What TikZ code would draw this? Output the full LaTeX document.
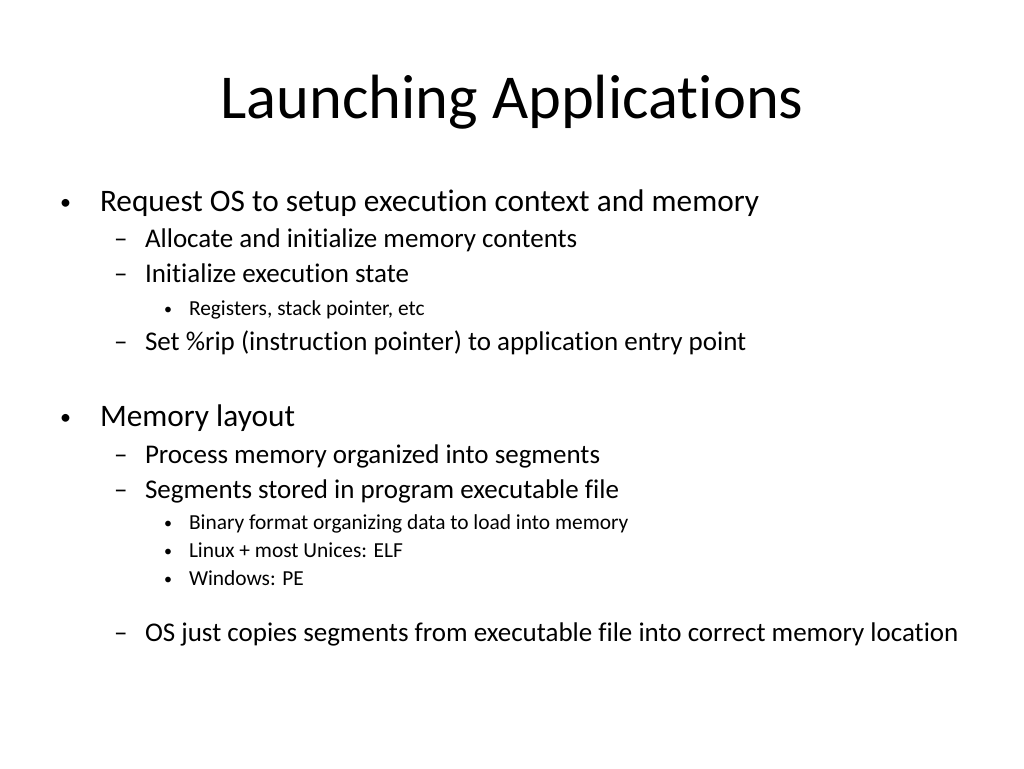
\documentclass[tikz,border=0pt]{standalone}
\usepackage{fontspec}
\setmainfont[RawFeature=-liga]{Carlito}
\begin{document}
\begin{tikzpicture}[x=1pt,y=-1pt,
 every node/.style={inner sep=0pt,outer sep=0pt,anchor=base west},
 lone/.style={font=\fontsize{31.3}{34}\selectfont},
 ltwo/.style={font=\fontsize{27}{30}\selectfont},
 lthree/.style={font=\fontsize{21.4}{24}\selectfont},
 bul/.style={font=\fontsize{22}{24}\selectfont}]
\useasboundingbox (0,0) rectangle (1024,768);
\node[anchor=base,font=\fontsize{62.5}{70}\selectfont] (title) at (512,118) {Launching Applications};
\node[bul] (b1) at (60,209) {\textbullet};
\node[lone] (t1) at (100,211) {Request OS to setup execution context and memory};
\node[ltwo] (d1) at (114,247) {\textendash};
\node[ltwo] (t2) at (145,247) {Allocate and initialize memory contents};
\node[ltwo] (d2) at (114,282) {\textendash};
\node[ltwo] (t3) at (145,282) {Initialize execution state};
\node[font=\fontsize{16}{18}\selectfont] (b2) at (164,314) {\textbullet};
\node[lthree] (t4) at (189,315) {Registers, stack pointer, etc};
\node[ltwo] (d3) at (114,350) {\textendash};
\node[ltwo] (t5) at (145,350) {Set \%rip (instruction pointer) to application entry point};
\node[bul] (b3) at (60,424) {\textbullet};
\node[lone] (t6) at (100,426) {Memory layout};
\node[ltwo] (d4) at (114,463) {\textendash};
\node[ltwo] (t7) at (145,463) {Process memory organized into segments};
\node[ltwo] (d5) at (114,498) {\textendash};
\node[ltwo] (t8) at (145,498) {Segments stored in program executable file};
\node[font=\fontsize{16}{18}\selectfont] (b4) at (164,528) {\textbullet};
\node[lthree] (t9) at (189,529) {Binary format organizing data to load into memory};
\node[font=\fontsize{16}{18}\selectfont] (b5) at (164,556) {\textbullet};
\node[lthree] (t10) at (189,557) {Linux + most Unices: ELF};
\node[font=\fontsize{16}{18}\selectfont] (b6) at (164,584) {\textbullet};
\node[lthree] (t11) at (189,585) {Windows: PE};
\node[ltwo] (d6) at (114,641) {\textendash};
\node[ltwo] (t12) at (145,641) {OS just copies segments from executable file into correct memory location};
\end{tikzpicture}
\end{document}
